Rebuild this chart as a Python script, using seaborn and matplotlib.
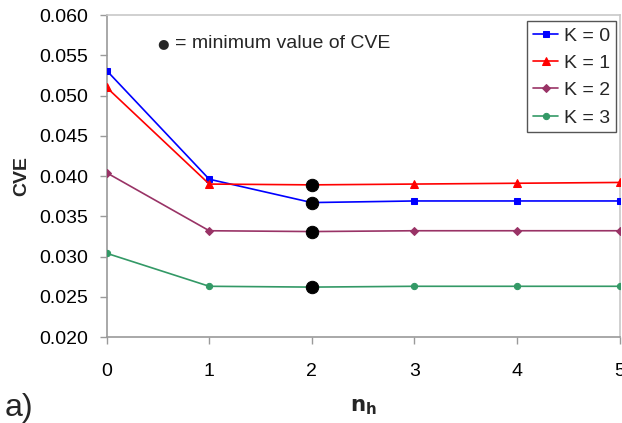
import matplotlib
matplotlib.use("Agg")
import matplotlib.pyplot as plt
import seaborn as sns
import pandas as pd
from matplotlib.ticker import FormatStrFormatter, MultipleLocator

# number of hidden nodes
n_h = [0, 1, 2, 3, 4, 5]

# cross-validation error for each K
cve_k0 = [0.0531, 0.0396, 0.0367, 0.0369, 0.0369, 0.0369]
cve_k1 = [0.0510, 0.0390, 0.0389, 0.0390, 0.0391, 0.0392]
cve_k2 = [0.0404, 0.0332, 0.0331, 0.0332, 0.0332, 0.0332]
cve_k3 = [0.0304, 0.0263, 0.0262, 0.0263, 0.0263, 0.0263]

labels = ["K = 0", "K = 1", "K = 2", "K = 3"]
min_index = 2  # n_h at which every curve reaches its minimum

series = [cve_k0, cve_k1, cve_k2, cve_k3]
colors = ["#0000FF", "#FF0000", "#993366", "#339966"]
markers = ["s", "^", "D", "o"]
msizes = [5, 5.5, 4.5, 4.5]

sns.set_theme(style="white")
plt.rcParams["font.family"] = ["Liberation Sans", "DejaVu Sans"]

FS = 14

fig = plt.figure(figsize=(6.22, 4.23), dpi=100)
ax = fig.add_axes([0.1715, 0.2033, 0.8245, 0.7612])

frames = []
for lab, vals in zip(labels, series):
    frames.append(pd.DataFrame({"n_h": n_h, "CVE": vals, "K": lab}))
df = pd.concat(frames, ignore_index=True)

for lab, col, mk, ms in zip(labels, colors, markers, msizes):
    sub = df[df["K"] == lab]
    sns.lineplot(data=sub, x="n_h", y="CVE", ax=ax, color=col, marker=mk,
                 markersize=ms, markeredgecolor=col, linewidth=1.2,
                 label=lab, zorder=3)

# minimum points
mins = df[df["n_h"] == n_h[min_index]]
sns.scatterplot(data=mins, x="n_h", y="CVE", ax=ax, color="black", s=80,
                edgecolor="black", zorder=5, legend=False)

ax.set_xlim(0, 5)
ax.set_ylim(0.020, 0.060)
ax.xaxis.set_major_locator(MultipleLocator(1))
ax.yaxis.set_major_locator(MultipleLocator(0.005))
ax.yaxis.set_major_formatter(FormatStrFormatter("%.3f"))

for side in ["left", "bottom"]:
    ax.spines[side].set_color("#9a9a9a")
    ax.spines[side].set_linewidth(1.2)
for side in ["top", "right"]:
    ax.spines[side].set_color("#c8c8c8")
    ax.spines[side].set_linewidth(1.2)
for sp in ax.spines.values():
    sp.set_visible(True)

ax.tick_params(axis="both", which="major", direction="out", length=5,
               width=1.0, color="#9a9a9a", labelsize=FS, labelcolor="black",
               left=True, bottom=True)
ax.tick_params(axis="x", pad=14)
ax.tick_params(axis="y", pad=8)

ax.set_xlabel("")
ax.set_ylabel("")
fig.text(0.035, 0.585, "CVE", rotation=90, fontsize=FS, fontweight="bold",
         ha="center", va="center")
fig.text(0.584, 0.04, r"$\mathbf{n}_\mathbf{h}$", fontsize=15.5,
         ha="center", va="center")
fig.text(0.008, 0.035, "a)", fontsize=23, ha="left", va="center")

# key for the black dots
fig.text(0.2625, 0.898, "\u25CF", fontsize=9.5, ha="center", va="center",
         family=["DejaVu Sans"])
fig.text(0.281, 0.898, "= minimum value of CVE", fontsize=FS,
         ha="left", va="center")

leg = ax.legend(loc="upper right", bbox_to_anchor=(0.9905, 0.95),
                bbox_transform=fig.transFigure, fontsize=FS, frameon=True,
                fancybox=False, framealpha=1, edgecolor="#555555",
                handlelength=1.3, handletextpad=0.3, labelspacing=0.5,
                borderpad=0.3, borderaxespad=0)
leg.get_frame().set_linewidth(1.0)

fig.savefig("out.png", dpi=100)
